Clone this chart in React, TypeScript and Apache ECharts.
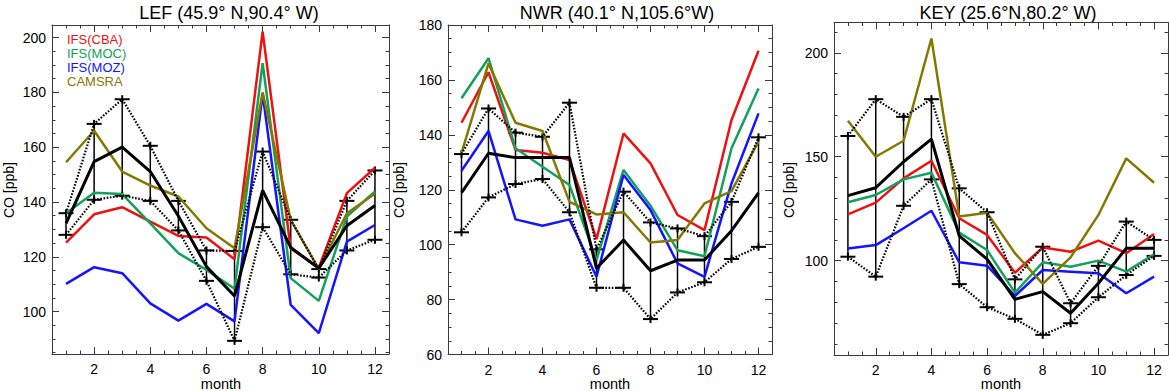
import React, { useEffect, useRef } from "react";
import * as echarts from "echarts";

// ---------- data ----------
const months = [1, 2, 3, 4, 5, 6, 7, 8, 9, 10, 11, 12];
const xMajorTicks = [2, 4, 6, 8, 10, 12];
const xMinorTicks = [1, 1.5, 2, 2.5, 3, 3.5, 4, 4.5, 5, 5.5, 6, 6.5, 7, 7.5, 8, 8.5, 9, 9.5, 10, 10.5, 11, 11.5, 12];

const modelNames = ["IFS(CBA)", "IFS(MOC)", "IFS(MOZ)", "CAMSRA"];

// LEF
const lefTitle = "LEF (45.9° N,90.4° W)";
const lefCBA = [125.2, 135.5, 138.1, 132.8, 127.6, 127.0, 119.1, 202.2, 123.0, 116.0, 143.2, 152.5];
const lefMOC = [135.9, 143.4, 142.9, 132.2, 121.3, 115.2, 108.3, 190.7, 112.2, 103.9, 134.7, 143.8];
const lefMOZ = [110.1, 116.2, 114.0, 103.0, 96.7, 102.8, 96.4, 179.5, 102.4, 92.1, 125.5, 131.6];
const lefCAMSRA = [154.5, 166.0, 151.1, 146.0, 142.0, 130.4, 123.1, 180.0, 133.5, 115.5, 135.9, 143.0];
const lefObs = [132.2, 154.7, 160.0, 151.1, 134.9, 116.4, 105.7, 144.2, 123.4, 115.8, 131.3, 138.7];
const lefUpper = [135.9, 168.5, 177.5, 160.5, 140.4, 122.3, 122.1, 158.4, 133.5, 115.5, 140.4, 151.5];
const lefLower = [128.0, 140.8, 142.3, 140.4, 129.6, 111.2, 89.3, 130.8, 113.6, 112.4, 122.3, 126.2];
const lefYMajor = [100, 120, 140, 160, 180, 200];
const lefYMinor = [85, 90, 95, 100, 105, 110, 115, 120, 125, 130, 135, 140, 145, 150, 155, 160, 165, 170, 175, 180, 185, 190, 195, 200];

// NWR
const nwrTitle = "NWR (40.1° N,105.6°W)";
const nwrCBA = [144.4, 162.8, 134.5, 133.5, 130.8, 102.0, 140.5, 129.6, 110.8, 105.3, 145.4, 170.6];
const nwrMOC = [153.3, 167.9, 135.1, 128.4, 121.7, 94.4, 127.2, 114.2, 98.0, 95.8, 135.1, 156.9];
const nwrMOZ = [126.9, 141.4, 109.2, 106.9, 109.2, 88.3, 125.4, 112.6, 93.2, 88.3, 122.3, 147.8];
const nwrCAMSRA = [133.3, 166.0, 144.4, 141.4, 115.6, 111.0, 111.8, 100.8, 101.7, 115.0, 119.5, 137.5];
const nwrObs = [118.9, 133.3, 131.7, 131.7, 131.7, 91.4, 101.7, 90.5, 94.4, 94.4, 105.1, 118.9];
const nwrUpper = [133.0, 149.6, 140.8, 139.3, 151.7, 98.3, 119.3, 108.1, 105.9, 103.1, 115.6, 139.1];
const nwrLower = [104.5, 117.2, 122.1, 123.9, 111.8, 84.3, 84.3, 72.9, 82.6, 86.3, 94.8, 99.2];
const nwrYMajor = [60, 80, 100, 120, 140, 160, 180];
const nwrYMinor = [65, 70, 75, 80, 85, 90, 95, 100, 105, 110, 115, 120, 125, 130, 135, 140, 145, 150, 155, 160, 165, 170, 175];

// KEY
const keyTitle = "KEY (25.6°N,80.2° W)";
const keyCBA = [122.3, 127.9, 139.6, 148.1, 120.4, 112.4, 94.2, 106.3, 104.3, 109.6, 103.6, 112.8];
const keyMOC = [128.1, 131.6, 139.1, 142.3, 113.5, 105.1, 84.6, 99.2, 97.1, 100.0, 94.7, 103.1];
const keyMOZ = [105.8, 107.5, 115.6, 124.0, 99.2, 97.6, 83.0, 95.5, 94.7, 93.9, 84.3, 92.3];
const keyCAMSRA = [167.3, 150.0, 157.7, 206.9, 121.2, 123.1, 103.6, 88.8, 101.6, 122.0, 149.2, 137.5];
const keyObs = [131.3, 135.1, 147.6, 158.5, 111.9, 100.7, 81.4, 85.1, 74.7, 89.1, 106.0, 106.0];
const keyUpper = [160.0, 177.7, 169.2, 177.7, 134.8, 123.3, 91.0, 106.7, 79.5, 97.5, 118.8, 110.0];
const keyLower = [101.9, 92.3, 126.4, 139.1, 88.7, 77.6, 72.0, 64.3, 69.9, 82.4, 93.1, 102.3];
const keyYMajor = [100, 150, 200];
const keyYMinor = [60, 70, 80, 90, 100, 110, 120, 130, 140, 150, 160, 170, 180, 190, 200, 210];

// ---------- styling / layout ----------
const FONT = '"Liberation Sans", Arial, Helvetica, sans-serif';
const modelColors = ["#ee1111", "#12a05a", "#1414ff", "#857800"];
const AXIS_COLOR = "#3a3a3a";

const panels = [
  {
    title: lefTitle, models: [lefCBA, lefMOC, lefMOZ, lefCAMSRA], obs: lefObs, upper: lefUpper, lower: lefLower,
    yMin: 84.5, yMax: 204.6, yMajor: lefYMajor, yMinor: lefYMinor,
    grid: { left: 52, top: 25, width: 337, height: 329 },
    titleX: 229, monthX: 221, coX: 9, legend: true,
  },
  {
    title: nwrTitle, models: [nwrCBA, nwrMOC, nwrMOZ, nwrCAMSRA], obs: nwrObs, upper: nwrUpper, lower: nwrLower,
    yMin: 60, yMax: 180, yMajor: nwrYMajor, yMinor: nwrYMinor,
    grid: { left: 448, top: 25, width: 324, height: 329.5 },
    titleX: 617, monthX: 610, coX: 399, legend: false,
  },
  {
    title: keyTitle, models: [keyCBA, keyMOC, keyMOZ, keyCAMSRA], obs: keyObs, upper: keyUpper, lower: keyLower,
    yMin: 54.6, yMax: 214.6, yMajor: keyYMajor, yMinor: keyYMinor,
    grid: { left: 834, top: 22.5, width: 334, height: 332.5 },
    titleX: 1008, monthX: 1001, coX: 789, legend: false,
  },
];

function makeAxes(dim: "x" | "y", g: number, min: number, max: number, major: number[], minor: number[]) {
  const base: any = {
    type: "value", gridIndex: g, min, max, scale: true,
    splitLine: { show: false },
    axisLine: { show: true, onZero: false, lineStyle: { color: AXIS_COLOR, width: 1 } },
    axisPointer: { show: false },
  };
  const pos1 = dim === "x" ? "bottom" : "left";
  const pos2 = dim === "x" ? "top" : "right";
  const label = {
    show: true, customValues: major, margin: dim === "x" ? 8 : 6, fontSize: 14,
    color: "#000", fontFamily: FONT,
  };
  const tickMaj = { show: true, inside: true, length: 7, customValues: major, lineStyle: { color: AXIS_COLOR, width: 1 } };
  const tickMin = { show: true, inside: true, length: 3.5, customValues: minor, lineStyle: { color: AXIS_COLOR, width: 1 } };
  return [
    { ...base, position: pos1, axisTick: tickMaj, axisLabel: label },
    { ...base, position: pos1, axisLine: { show: false, onZero: false }, axisTick: tickMin, axisLabel: { show: false } },
    { ...base, position: pos2, axisTick: tickMaj, axisLabel: { show: false } },
    { ...base, position: pos2, axisLine: { show: false, onZero: false }, axisTick: tickMin, axisLabel: { show: false } },
  ];
}

function errorBarRender(params: any, api: any) {
  const x = api.value(0);
  const lo = api.value(1);
  const hi = api.value(2);
  const pL = api.coord([x, lo]);
  const pH = api.coord([x, hi]);
  const hw = 7.5;
  const vh = 4;
  const st = { stroke: "#000", lineWidth: 2 };
  return {
    type: "group",
    children: [
      { type: "line", shape: { x1: pL[0], y1: pL[1], x2: pH[0], y2: pH[1] }, style: { stroke: "#000", lineWidth: 1.5 } },
      { type: "line", shape: { x1: pH[0] - hw, y1: pH[1], x2: pH[0] + hw, y2: pH[1] }, style: st },
      { type: "line", shape: { x1: pH[0], y1: pH[1] - vh, x2: pH[0], y2: pH[1] + vh }, style: st },
      { type: "line", shape: { x1: pL[0] - hw, y1: pL[1], x2: pL[0] + hw, y2: pL[1] }, style: st },
      { type: "line", shape: { x1: pL[0], y1: pL[1] - vh, x2: pL[0], y2: pL[1] + vh }, style: st },
    ],
  };
}

function buildOption() {
  const grids: any[] = [];
  const xAxes: any[] = [];
  const yAxes: any[] = [];
  const series: any[] = [];
  const graphics: any[] = [];

  panels.forEach((p, g) => {
    grids.push({ ...p.grid, containLabel: false, outerBoundsMode: "none", show: false });
    xAxes.push(...makeAxes("x", g, 0.5, 12.5, xMajorTicks, xMinorTicks));
    yAxes.push(...makeAxes("y", g, p.yMin, p.yMax, p.yMajor, p.yMinor));
    const ax = { xAxisIndex: g * 4, yAxisIndex: g * 4 };

    p.models.forEach((vals, k) => {
      series.push({
        type: "line", ...ax, symbol: "none", silent: true,
        data: months.map((m, i) => [m, vals[i]]),
        lineStyle: { color: modelColors[k], width: 2.5 },
      });
    });
    series.push({
      type: "line", ...ax, symbol: "none", silent: true,
      data: months.map((m, i) => [m, p.obs[i]]),
      lineStyle: { color: "#000", width: 3 },
    });
    [p.upper, p.lower].forEach((vals) => {
      series.push({
        type: "line", ...ax, symbol: "none", silent: true,
        data: months.map((m, i) => [m, vals[i]]),
        lineStyle: { color: "#000", width: 2.2, type: [1.6, 1.6] },
      });
    });
    series.push({
      type: "custom", ...ax, silent: true,
      renderItem: errorBarRender,
      encode: { x: 0, y: [1, 2] },
      data: months.map((m, i) => [m, p.lower[i], p.upper[i]]),
    });

    graphics.push({
      type: "text", x: p.titleX, y: 13,
      style: { text: p.title, fill: "#000", font: `18px ${FONT}`, align: "center", verticalAlign: "middle" },
    });
    graphics.push({
      type: "text", x: p.monthX, y: 384,
      style: { text: "month", fill: "#000", font: `14.5px ${FONT}`, align: "center", verticalAlign: "middle" },
    });
    graphics.push({
      type: "text", x: p.coX, y: 190, rotation: Math.PI / 2,
      style: { text: "CO [ppb]", fill: "#000", font: `14px ${FONT}`, align: "center", verticalAlign: "middle" },
    });
    if (p.legend) {
      modelNames.forEach((nm, k) => {
        graphics.push({
          type: "text", x: 67, y: 39 + k * 14.2,
          style: { text: nm, fill: modelColors[k], font: `13px ${FONT}`, align: "left", verticalAlign: "middle" },
        });
      });
    }
  });

  return {
    animation: false,
    backgroundColor: "#fff",
    grid: grids,
    xAxis: xAxes,
    yAxis: yAxes,
    series,
    graphic: graphics,
  };
}

export default function App() {
  const ref = useRef<HTMLDivElement>(null);
  useEffect(() => {
    if (!ref.current) return;
    const chart = echarts.init(ref.current, undefined, { renderer: "svg" });
    chart.setOption(buildOption() as any);
    return () => chart.dispose();
  }, []);
  return (
    <div
      ref={ref}
      style={{ position: "absolute", left: 0, top: 0, width: 1169, height: 391, background: "#fff" }}
    />
  );
}
